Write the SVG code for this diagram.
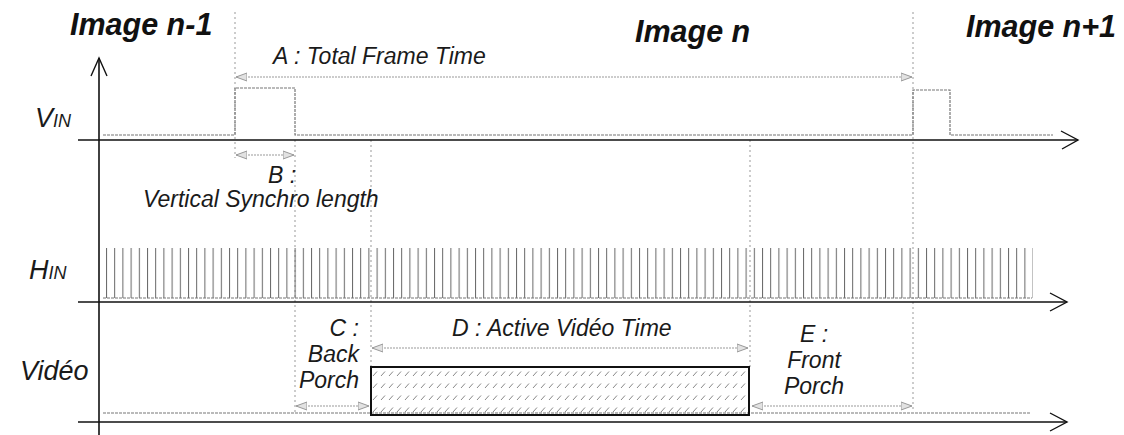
<svg xmlns="http://www.w3.org/2000/svg" width="1124" height="435" viewBox="0 0 1124 435">
<style>
.title{font-family:"Liberation Sans",Arial,sans-serif;font-weight:bold;font-style:italic;font-size:30.5px;fill:#111}
.lbl{font-family:"Liberation Sans",Arial,sans-serif;font-style:italic;font-size:23px;fill:#1a1a1a}
.sig{font-family:"Liberation Sans",Arial,sans-serif;font-style:italic;font-size:27px;fill:#1a1a1a}
.sub{font-size:18px}
.axis{stroke:#111;stroke-width:1.6;fill:none}
.head{stroke:#111;stroke-width:1.4;fill:none}
.wave{stroke:#777;stroke-width:1.2;stroke-dasharray:3 1;fill:none}
.guide{stroke:#999;stroke-width:1;stroke-dasharray:2 3;fill:none}
.dim{stroke:#999;stroke-width:1;stroke-dasharray:2 1;fill:none;marker-start:url(#ah);marker-end:url(#ah)}
</style>
<defs>
<marker id="ah" viewBox="0 0 12 10" refX="11" refY="5" markerWidth="12" markerHeight="10" markerUnits="userSpaceOnUse" orient="auto-start-reverse">
<path d="M0,1 L11,5 L0,9 Z" fill="#e2e2e2" stroke="#999" stroke-width="1"/>
</marker>
<pattern id="hpulse" x="106" y="248" width="8.2" height="50" patternUnits="userSpaceOnUse">
<line x1="0.5" y1="0" x2="0.5" y2="50" stroke="#666" stroke-width="1"/>
</pattern>
<pattern id="hatch" x="371" y="367" width="8" height="12" patternUnits="userSpaceOnUse">
<line x1="2" y1="9" x2="6" y2="4.5" stroke="#888" stroke-width="1"/>
</pattern>
</defs>

<g id="titles">
<text class="title" x="70" y="35">Image n-1</text>
<text class="title" x="635" y="42">Image n</text>
<text class="title" x="966" y="37">Image n+1</text>
</g>

<g id="guides">
<line class="guide" x1="235" y1="12" x2="235" y2="158"/>
<line class="guide" x1="295" y1="140" x2="295" y2="412"/>
<line class="guide" x1="371" y1="140" x2="371" y2="367"/>
<line class="guide" x1="750" y1="140" x2="750" y2="367"/>
<line class="guide" x1="913" y1="12" x2="913" y2="410"/>
</g>

<g id="axes">
<line class="axis" x1="99" y1="58" x2="99" y2="435"/>
<path class="head" d="M91,76 L99,58 L107,76"/>
<line class="axis" x1="78" y1="140" x2="1078" y2="140"/>
<path class="head" d="M1061,131 L1078,140 L1062,149"/>
<line class="axis" x1="78" y1="302" x2="1067" y2="302"/>
<path class="head" d="M1050,293 L1067,302 L1050,311"/>
<line class="axis" x1="78" y1="422" x2="1067" y2="422"/>
<path class="head" d="M1050,413 L1067,422 L1050,431"/>
</g>

<g id="vin">
<text class="sig" x="35" y="127">V<tspan class="sub">IN</tspan></text>
<path class="wave" d="M103,135 H235 V88 H295 V135 H913 V90 H950 V135 H1053"/>
</g>

<g id="hin">
<text class="sig" x="29" y="279">H<tspan class="sub">IN</tspan></text>
<rect x="106" y="248" width="927" height="50" fill="url(#hpulse)"/>
<line class="wave" x1="103" y1="298" x2="1032" y2="298"/>
</g>

<g id="video">
<text class="sig" x="20" y="380">Vidéo</text>
<line class="wave" x1="103" y1="413" x2="1030" y2="413"/>
<rect x="371" y="367" width="378" height="48" fill="url(#hatch)" stroke="#111" stroke-width="2"/>
</g>

<g id="connectors">
<line class="dim" x1="236" y1="77" x2="912" y2="77"/>
<line class="dim" x1="236" y1="155" x2="294" y2="155"/>
<line class="dim" x1="296" y1="406" x2="369" y2="406"/>
<line class="dim" x1="372" y1="348" x2="748" y2="348"/>
<line class="dim" x1="752" y1="406" x2="912" y2="406"/>
</g>

<g id="labels">
<text class="lbl" x="273" y="64" font-size="23.5">A : Total Frame Time</text>
<text class="lbl" x="268" y="183">B :</text>
<text class="lbl" x="143" y="207" font-size="22.5">Vertical Synchro length</text>
<text class="lbl" x="359" y="336" text-anchor="end">C :</text>
<text class="lbl" x="359" y="362" text-anchor="end">Back</text>
<text class="lbl" x="359" y="388" text-anchor="end">Porch</text>
<text class="lbl" x="452" y="336" font-size="23.5">D : Active Vidéo Time</text>
<text class="lbl" x="814" y="342" text-anchor="middle">E :</text>
<text class="lbl" x="814" y="368" text-anchor="middle">Front</text>
<text class="lbl" x="814" y="394" text-anchor="middle">Porch</text>
</g>
</svg>
